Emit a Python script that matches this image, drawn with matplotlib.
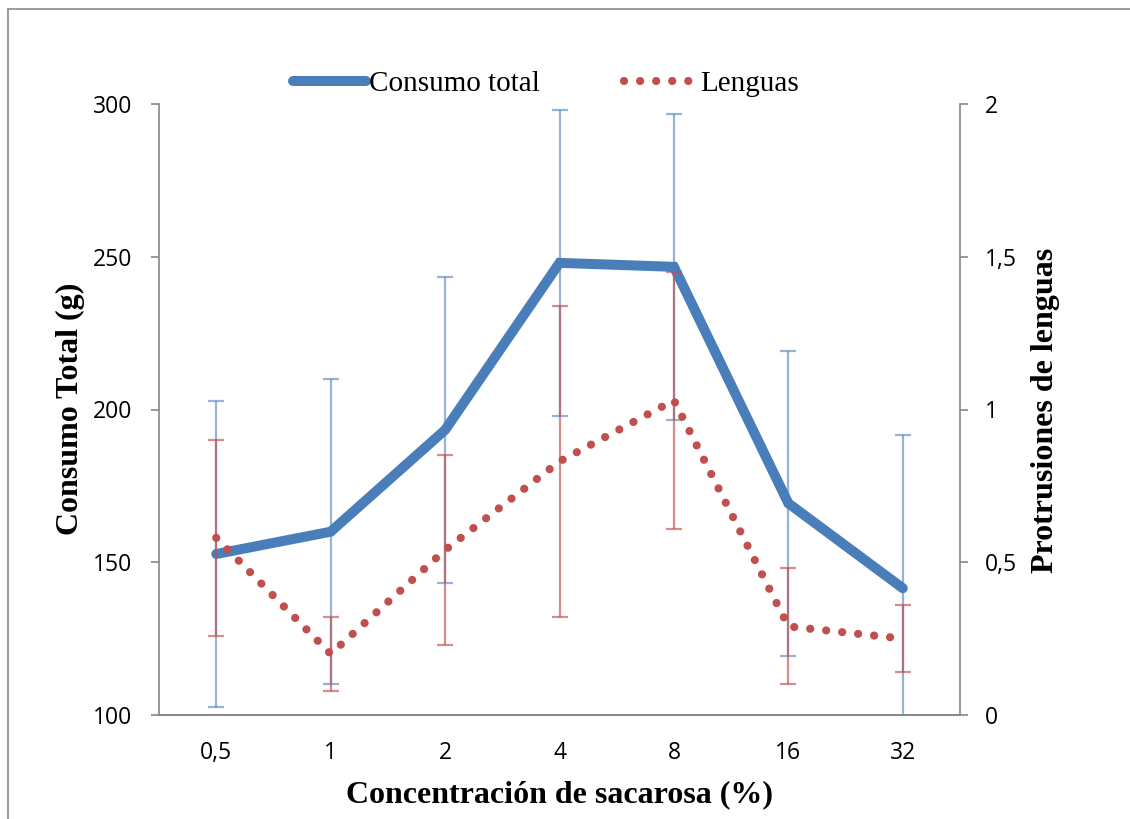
import matplotlib
matplotlib.use("Agg")
import matplotlib.pyplot as plt
from matplotlib.lines import Line2D
import numpy as np

# ---- data ----
categories = ["0,5", "1", "2", "4", "8", "16", "32"]
consumo = [152.7, 160.0, 193.3, 248.0, 246.7, 169.3, 141.5]
consumo_err = [50, 50, 50, 50, 50, 50, 50]
lenguas = [0.58, 0.20, 0.54, 0.83, 1.03, 0.29, 0.25]
lenguas_err = [0.32, 0.12, 0.31, 0.51, 0.42, 0.19, 0.11]
left_ticks = [100, 150, 200, 250, 300]
right_ticks = [0, 0.5, 1, 1.5, 2]
right_ticklabels = ["0", "0,5", "1", "1,5", "2"]

BLUE = "#4A7EBB"
RED = "#C0504D"
GRAY = "#868686"
W, H = 1130, 819
DPI = 100

fig = plt.figure(figsize=(W / DPI, H / DPI), dpi=DPI)
ax = fig.add_axes([159 / W, 1 - 715 / H, (960 - 159) / W, (715 - 104) / H])
ax2 = ax.twinx()

x = np.arange(len(categories))
DOT = (0, (0.01, 1.95))

# blue series
ax.errorbar(x, consumo, yerr=consumo_err, fmt="none", ecolor="#4F81BD", alpha=0.6,
            elinewidth=1.6, capsize=6, capthick=1.6, zorder=2)
ax.plot(x, consumo, color=BLUE, lw=7.2, solid_joinstyle="miter",
        solid_capstyle="round", zorder=3)

# red series
ax2.errorbar(x, lenguas, yerr=lenguas_err, fmt="none", ecolor=RED, alpha=0.65,
             elinewidth=1.6, capsize=6, capthick=1.6, zorder=2)
ax2.plot(x, lenguas, color=RED, lw=5.9, linestyle=DOT,
         dash_capstyle="round", zorder=4)

ax.set_xlim(-0.5, len(categories) - 0.5)
ax.set_ylim(100, 300)
ax2.set_ylim(0, 2)
ax.set_xticks(x)
ax.set_xticklabels(categories)
ax.set_yticks(left_ticks)
ax.set_yticklabels([str(v) for v in left_ticks])
ax2.set_yticks(right_ticks)
ax2.set_yticklabels(right_ticklabels)

for a in (ax, ax2):
    for s in a.spines.values():
        s.set_color(GRAY)
        s.set_linewidth(1.2)
    a.spines["top"].set_visible(False)
    for lab in a.get_xticklabels() + a.get_yticklabels():
        lab.set_fontfamily("Open Sans")
        lab.set_fontsize(16.5)
ax2.spines["left"].set_visible(False)
ax.spines["right"].set_visible(False)
ax.tick_params(axis="x", length=0, pad=19)
ax.tick_params(axis="y", direction="out", length=6, width=1.2, color=GRAY, pad=13)
ax2.tick_params(axis="y", direction="out", length=6, width=1.2, color=GRAY, pad=12)
ax.patch.set_visible(False)

# axis titles
title_font = dict(family="Liberation Serif", weight="bold", size=23)
fig.text(559.5 / W, 1 - 795 / H, "Concentración de sacarosa (%)",
         ha="center", va="center", **title_font)
fig.text(70 / W, 1 - 409 / H, "Consumo Total (g)", rotation=90,
         ha="center", va="center", **title_font)
fig.text(1045 / W, 1 - 410 / H, "Protrusiones de lenguas", rotation=90,
         ha="center", va="center", **title_font)

# legend
h1 = Line2D([], [], color=BLUE, lw=7.2, solid_capstyle="round")
h2 = Line2D([], [], color=RED, lw=5.9, linestyle=DOT, dash_capstyle="round")
fig.legend([h1, h2], ["Consumo total", "Lenguas"], loc="center",
           bbox_to_anchor=(546 / W, 1 - 84 / H), ncol=2, frameon=False,
           prop=dict(family="Liberation Serif", size=21),
           handlelength=2.5, handletextpad=0.1, columnspacing=2.9,
           borderpad=0, borderaxespad=0)

# chart-area border (top & left visible)
fig.add_artist(Line2D([8 / W, 1.0], [1 - 9 / H, 1 - 9 / H], color="#8a8a8a",
                      lw=1.2, transform=fig.transFigure))
fig.add_artist(Line2D([8 / W, 8 / W], [0.0, 1 - 9 / H], color="#8a8a8a",
                      lw=1.2, transform=fig.transFigure))

fig.savefig("out.png", dpi=DPI)
